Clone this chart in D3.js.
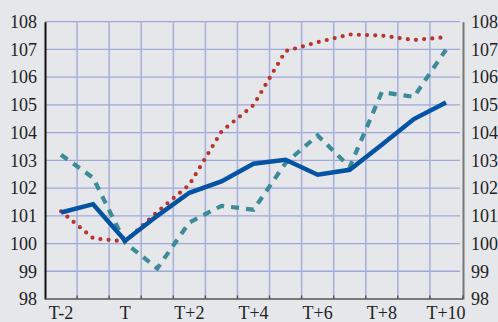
<!DOCTYPE html>
<html><head><meta charset="utf-8">
<script src="https://cdn.jsdelivr.net/npm/d3@7"></script>
<style>
html,body{margin:0;padding:0;background:#e6e7ea;}
svg{display:block;}
text{font-family:"Liberation Serif","DejaVu Serif",serif;fill:#222;}
</style></head>
<body>
<svg id="c" width="498" height="322"></svg>
<script>
const periods = ["T-2","T-1","T","T+1","T+2","T+3","T+4","T+5","T+6","T+7","T+8","T+9","T+10"];
const tickLabels = ["T-2","T","T+2","T+4","T+6","T+8","T+10"];
const yTicks = [98,99,100,101,102,103,104,105,106,107,108];
const blueSeries = [101.12,101.42,100.1,101.0,101.83,102.24,102.88,103.02,102.48,102.66,103.56,104.49,105.09];
const redSeries = [101.16,100.19,100.07,101.14,102.12,104.04,104.99,106.94,107.26,107.54,107.5,107.34,107.44];
const tealSeries = [103.2,102.37,100.03,99.1,100.76,101.36,101.22,102.9,103.9,102.76,105.46,105.29,106.99];

const svg = d3.select("#c");
const L = 45, R = 462, T = 21.7, B = 299;
const x = d3.scaleBand().domain(periods).range([L, R]).padding(0);
const y = d3.scaleLinear().domain([98,108]).range([B, T]);

// grid
const g = svg.append("g");
g.selectAll(".hg").data(yTicks.filter(v=>v>98)).enter().append("line")
  .attr("x1",L).attr("x2",R-2).attr("y1",d=>y(d)).attr("y2",d=>y(d))
  .attr("stroke","#9ea8d8").attr("stroke-width",1.3);
g.selectAll(".vg").data(periods.slice(1)).enter().append("line")
  .attr("x1",d=>x(d)).attr("x2",d=>x(d)).attr("y1",T).attr("y2",B)
  .attr("stroke","#a8b2dc").attr("stroke-width",1.6);

// axes
const yl = d3.axisLeft(y).tickValues(yTicks).tickSize(0).tickPadding(8).tickFormat(d3.format("d"));
const gl = svg.append("g").attr("transform",`translate(${L},0)`).call(yl);
gl.select(".domain").attr("stroke","#111").attr("stroke-width",2);
gl.selectAll("text").style("font-size","18px").attr("fill","#222");

const yr = d3.axisRight(y).tickValues(yTicks).tickSize(0).tickPadding(8).tickFormat(d3.format("d"));
const gr = svg.append("g").attr("transform",`translate(${R+1},0)`).call(yr);
gr.select(".domain").attr("stroke","#777").attr("stroke-width",2);
gr.selectAll("text").style("font-size","18px").attr("fill","#222");

// bottom axis line + upward ticks at band boundaries
const bx = svg.append("g");
bx.append("line").attr("x1",L).attr("x2",R+1).attr("y1",B).attr("y2",B)
  .attr("stroke","#555").attr("stroke-width",1.6);
bx.selectAll(".bt").data(periods.slice(1).map(p=>x(p)).concat([R+1])).enter().append("line")
  .attr("x1",d=>d).attr("x2",d=>d).attr("y1",B).attr("y2",B-3.5)
  .attr("stroke","#555").attr("stroke-width",1.4);
const xa = d3.axisBottom(x).tickValues(tickLabels).tickSize(0).tickPadding(7);
const gx = svg.append("g").attr("transform",`translate(0,${B})`).call(xa);
gx.select(".domain").remove();
gx.selectAll("text").style("font-size","18px").attr("fill","#222");

const cx = p => x(p) + x.bandwidth()/2;
const line = data => d3.line().x((d,i)=>cx(periods[i])).y(d=>y(d))(data);

svg.append("path").attr("d",line(tealSeries)).attr("fill","none")
  .attr("stroke","#3d8b99").attr("stroke-width",4.2).attr("stroke-dasharray","8,7");
svg.append("path").attr("d",line(redSeries)).attr("fill","none")
  .attr("stroke","#b8352c").attr("stroke-width",4.2).attr("stroke-linecap","round")
  .attr("stroke-dasharray","0,8.2");
svg.append("path").attr("d",line(blueSeries)).attr("fill","none")
  .attr("stroke","#0553a3").attr("stroke-width",4.5).attr("stroke-linejoin","miter");
</script>
</body></html>
